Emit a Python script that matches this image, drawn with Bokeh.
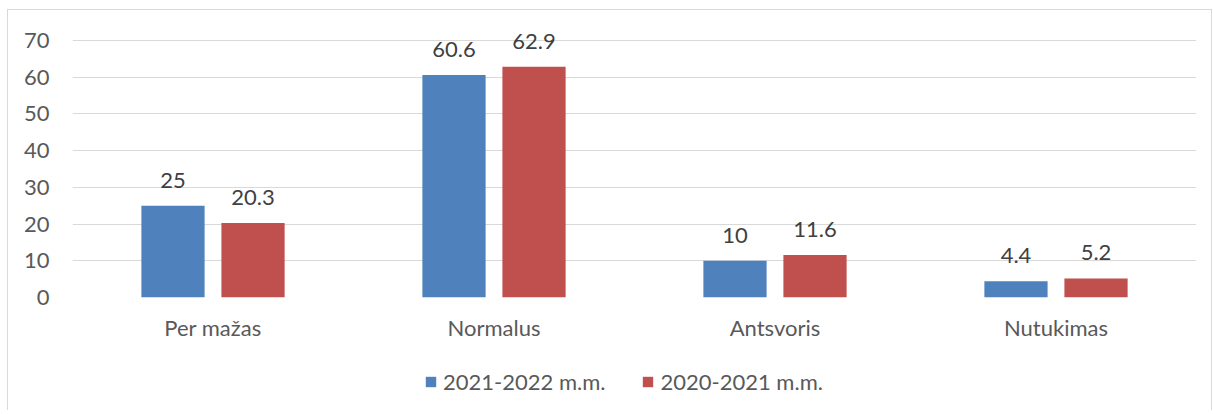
from bokeh.plotting import figure
from bokeh.layouts import column
from bokeh.models import (ColumnDataSource, FactorRange, Range1d, FixedTicker,
                          LabelSet, Legend, LegendItem)
from bokeh.core.properties import value
from bokeh.transform import dodge
from bokeh.embed import file_html
from bokeh.resources import INLINE

categories = ["Per mažas", "Normalus", "Antsvoris", "Nutukimas"]
series_names = ["2021-2022 m.m.", "2020-2021 m.m."]
values_2021_2022 = [25, 60.6, 10, 4.4]
values_2020_2021 = [20.3, 62.9, 11.6, 5.2]
y_ticks = [0, 10, 20, 30, 40, 50, 60, 70]

colors = ["#4F81BD", "#C0504D"]
FONT = "Lato"
TEXT = "#595959"
FS = "22px"
W = 1203

src = ColumnDataSource(dict(
    cat=categories,
    a=values_2021_2022,
    b=values_2020_2021,
    la=[f"{v:g}" for v in values_2021_2022],
    lb=[f"{v:g}" for v in values_2020_2021],
))

p = figure(width=W, height=340, x_range=FactorRange(factors=categories, range_padding=0),
           y_range=Range1d(0, 78.2), output_backend="svg", toolbar_location=None,
           min_border_left=64, min_border_right=15, min_border_top=0, min_border_bottom=53)
p.outline_line_color = None

off = 0.1424
bw = 0.225
p.vbar(x=dodge("cat", -off, range=p.x_range), top="a", width=bw, source=src,
       fill_color=colors[0], line_color=None)
p.vbar(x=dodge("cat", off, range=p.x_range), top="b", width=bw, source=src,
       fill_color=colors[1], line_color=None)

for col, lab, o in (("a", "la", -off), ("b", "lb", off)):
    p.add_layout(LabelSet(x=dodge("cat", o, range=p.x_range), y=col, text=lab, source=src,
                          text_align="center", text_baseline="alphabetic", y_offset=18,
                          text_font=value(FONT), text_font_size=FS, text_color="#404040"))

p.xgrid.grid_line_color = None
p.ygrid.grid_line_color = "#D9D9D9"
p.ygrid.grid_line_width = 1
p.yaxis.ticker = FixedTicker(ticks=y_ticks)
for ax in (p.xaxis, p.yaxis):
    ax.axis_line_color = None
    ax.major_tick_line_color = None
    ax.minor_tick_line_color = None
    ax.major_tick_out = 0
    ax.major_tick_in = 0
    ax.major_label_text_font = FONT
    ax.major_label_text_font_size = FS
    ax.major_label_text_color = TEXT
p.yaxis.major_label_standoff = 23
p.xaxis.major_label_standoff = 16

# legend strip below the chart (swatch renderers sit outside its visible range)
q = figure(width=W, height=60, x_range=Range1d(0, 1), y_range=Range1d(0, 1),
           x_axis_location=None, y_axis_location=None,
           output_backend="svg", toolbar_location=None,
           min_border_left=0, min_border_right=0, min_border_top=0, min_border_bottom=0)
q.grid.visible = False
q.outline_line_color = None
e1 = q.vbar(x=[-10], top=[0], width=0.1, fill_color=colors[0], line_color=None)
e2 = q.vbar(x=[-10], top=[0], width=0.1, fill_color=colors[1], line_color=None)
legend = Legend(items=[LegendItem(label=series_names[0], renderers=[e1]),
                       LegendItem(label=series_names[1], renderers=[e2])],
                location=(352, 15), orientation="horizontal",
                glyph_width=13, glyph_height=13, label_standoff=6, spacing=36,
                padding=0, margin=0, border_line_color=None, background_fill_alpha=0,
                label_text_font=FONT, label_text_font_size=FS, label_text_color=TEXT)
q.add_layout(legend, "center")

page = column(p, q, spacing=0,
              styles={"border-left": "1px solid #D9D9D9", "border-top": "1px solid #D9D9D9",
                      "border-right": "1px solid #D9D9D9", "margin-left": "7px",
                      "margin-top": "9px"})

open("out.html", "w").write(file_html(page, INLINE))
